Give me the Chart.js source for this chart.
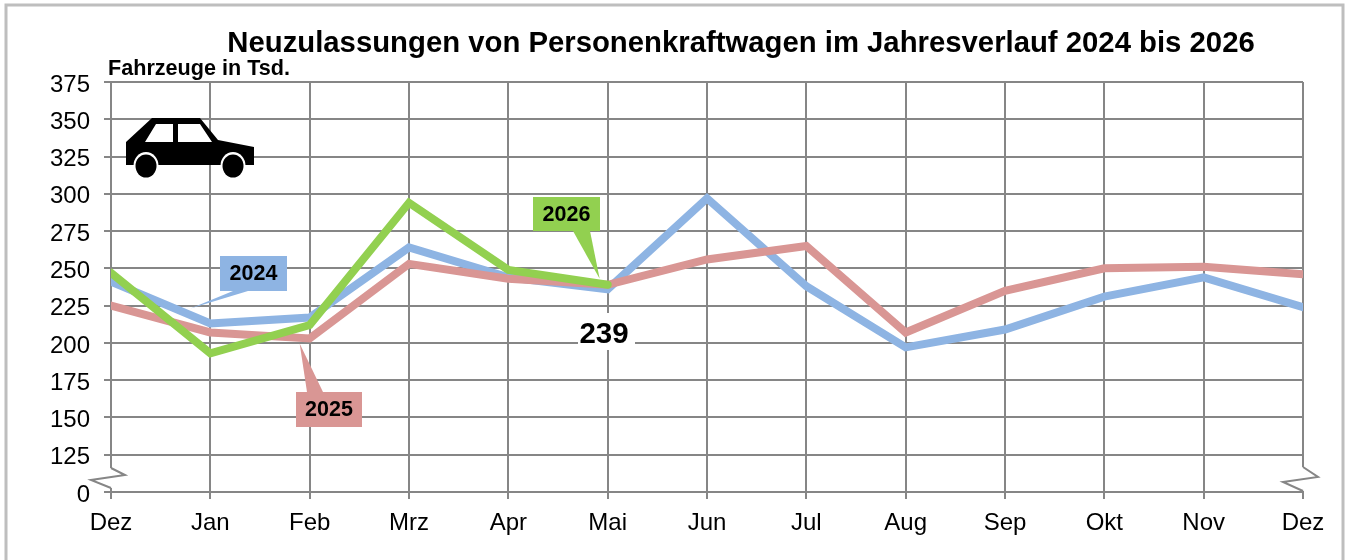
<!DOCTYPE html>
<html lang="de">
<head>
<meta charset="utf-8">
<title>Neuzulassungen</title>
<script src="https://cdn.jsdelivr.net/npm/chart.js@4"></script>
<style>
  html, body { margin: 0; padding: 0; background: #fff; overflow: hidden; }
  #wrap { position: relative; width: 1348px; height: 560px; }
</style>
</head>
<body>
<div id="wrap"><canvas id="chart" width="1348" height="560"></canvas></div>
<script>
const months = ['Dez', 'Jan', 'Feb', 'Mrz', 'Apr', 'Mai', 'Jun', 'Jul', 'Aug', 'Sep', 'Okt', 'Nov', 'Dez'];
const values2024 = [241, 213, 217, 264, 244, 236, 297, 238, 197, 209, 231, 244, 224];
const values2025 = [225, 207, 203, 253, 243, 239, 256, 265, 207, 235, 250, 251, 246];
const values2026 = [247, 193, 212, 294, 249, 239];
// the axis is broken: the "0" tick sits one step below 125
const yTickLabels = ['0', '125', '150', '175', '200', '225', '250', '275', '300', '325', '350', '375'];

const titleText = 'Neuzulassungen von Personenkraftwagen im Jahresverlauf 2024 bis 2026';
const unitText = 'Fahrzeuge in Tsd.';
const currentValue = '239';

const BLUE = '#8EB4E3';
const RED = '#D99694';
const GREEN = '#92D050';
const GRID = '#868686';
const FONT = '"Liberation Sans", Arial, sans-serif';

function callout(ctx, box, base, tip, color, text) {
  ctx.fillStyle = color;
  ctx.fillRect(box[0], box[1], box[2], box[3]);
  ctx.beginPath();
  ctx.moveTo(base[0], base[1]);
  ctx.lineTo(base[2], base[3]);
  ctx.lineTo(tip[0], tip[1]);
  ctx.closePath();
  ctx.fill();
  ctx.fillStyle = '#000';
  ctx.font = 'bold 21.5px ' + FONT;
  ctx.textAlign = 'center';
  ctx.textBaseline = 'middle';
  ctx.fillText(text, box[0] + box[2] / 2, box[1] + box[3] / 2 + 1);
}

function drawCar(ctx) {
  ctx.fillStyle = '#000';
  ctx.beginPath();
  ctx.moveTo(126, 142);
  ctx.lineTo(152, 118);
  ctx.lineTo(200, 118);
  ctx.lineTo(218, 140);
  ctx.lineTo(254, 147);
  ctx.lineTo(254, 165);
  ctx.lineTo(126, 165);
  ctx.closePath();
  ctx.fill();

  ctx.fillStyle = '#fff';
  ctx.beginPath();
  ctx.moveTo(145, 142);
  ctx.lineTo(156, 124);
  ctx.lineTo(173, 124);
  ctx.lineTo(173, 142);
  ctx.closePath();
  ctx.moveTo(178, 124);
  ctx.lineTo(200, 124);
  ctx.lineTo(212, 142);
  ctx.lineTo(178, 142);
  ctx.closePath();
  ctx.fill();

  [146, 233].forEach(x => {
    ctx.fillStyle = '#fff';
    ctx.beginPath();
    ctx.ellipse(x, 166, 12.5, 14, 0, Math.PI, 0);
    ctx.fill();
    ctx.fillStyle = '#000';
    ctx.beginPath();
    ctx.ellipse(x, 166, 10.5, 11.5, 0, 0, Math.PI * 2);
    ctx.fill();
  });
}

function axisBreak(ctx, x, points) {
  ctx.fillStyle = '#fff';
  ctx.fillRect(x - 2, points[0][1], 4, points[3][1] - points[0][1]);
  ctx.strokeStyle = GRID;
  ctx.lineWidth = 2;
  ctx.beginPath();
  ctx.moveTo(points[0][0], points[0][1]);
  points.slice(1).forEach(p => ctx.lineTo(p[0], p[1]));
  ctx.stroke();
}

const decorations = {
  id: 'decorations',
  beforeDraw(chart) {
    const ctx = chart.ctx;
    ctx.save();
    ctx.strokeStyle = '#BEBEBE';
    ctx.lineWidth = 3;
    ctx.strokeRect(6, 5, 1337, 620);
    ctx.restore();
  },
  beforeDatasetsDraw(chart) {
    const ctx = chart.ctx;
    const { left, right } = chart.chartArea;
    ctx.save();
    axisBreak(ctx, left, [[left, 468], [125, 475], [91, 480], [left, 488]]);
    axisBreak(ctx, right, [[right, 467], [1318, 477], [1283, 482], [right, 491]]);
    drawCar(ctx);
    ctx.restore();
  },
  afterDatasetsDraw(chart) {
    const ctx = chart.ctx;
    const x = chart.scales.x;
    const y = chart.scales.y;
    ctx.save();

    ctx.fillStyle = '#000';
    ctx.textBaseline = 'alphabetic';
    ctx.textAlign = 'center';
    ctx.font = 'bold 29.3px ' + FONT;
    ctx.fillText(titleText, 741, 52);
    ctx.textAlign = 'left';
    ctx.font = 'bold 21.6px ' + FONT;
    ctx.fillText(unitText, 108, 75);

    callout(ctx, [220, 256, 67, 35], [233, 291, 248, 291],
      [x.getPixelForValue(1) - 20, y.getPixelForValue(values2024[1]) - 15], BLUE, '2024');
    callout(ctx, [296, 392, 66, 35], [307, 392, 323, 392],
      [x.getPixelForValue(2) - 10, y.getPixelForValue(values2025[2]) + 5], RED, '2025');
    callout(ctx, [533, 197, 67, 34], [573, 231, 590, 231],
      [x.getPixelForValue(5) - 8, y.getPixelForValue(values2026[5]) - 6], GREEN, '2026');

    ctx.fillStyle = '#fff';
    ctx.fillRect(578, 313, 57, 37);
    ctx.fillStyle = '#000';
    ctx.textBaseline = 'alphabetic';
    ctx.textAlign = 'center';
    ctx.font = 'bold 29.5px ' + FONT;
    ctx.fillText(currentValue, 604, 343);
    ctx.restore();
  }
};

const lineStyle = {
  borderWidth: 8,
  pointRadius: 0,
  tension: 0,
  fill: false,
  clip: 0,
  borderCapStyle: 'round',
  borderJoinStyle: 'miter'
};

new Chart(document.getElementById('chart'), {
  type: 'line',
  data: {
    labels: months,
    datasets: [
      { label: '2024', data: values2024, borderColor: BLUE, backgroundColor: BLUE, order: 3, ...lineStyle },
      { label: '2025', data: values2025, borderColor: RED, backgroundColor: RED, order: 2, ...lineStyle },
      { label: '2026', data: values2026, borderColor: GREEN, backgroundColor: GREEN, order: 1, ...lineStyle }
    ]
  },
  options: {
    responsive: false,
    animation: false,
    layout: { autoPadding: false, padding: { top: 82, right: 45, bottom: 7, left: 0 } },
    plugins: { legend: { display: false }, title: { display: false }, tooltip: { enabled: false } },
    scales: {
      x: {
        type: 'category',
        offset: false,
        afterFit(scale) { scale.height = 61; },
        border: { display: false },
        grid: { color: GRID, lineWidth: 2, tickLength: 7, offset: false },
        ticks: { color: '#000', font: { family: FONT, size: 24 }, padding: 10, autoSkip: false, maxRotation: 0 }
      },
      y: {
        min: 100,
        max: 375,
        afterFit(scale) { scale.width = 111; },
        border: { display: false },
        grid: { color: GRID, lineWidth: 2, tickLength: 7 },
        ticks: {
          stepSize: 25,
          color: '#000',
          font: { family: FONT, size: 24 },
          padding: 14,
          labelOffset: 3,
          callback: (value, index) => yTickLabels[index]
        }
      }
    }
  },
  plugins: [decorations]
});
</script>
</body>
</html>
